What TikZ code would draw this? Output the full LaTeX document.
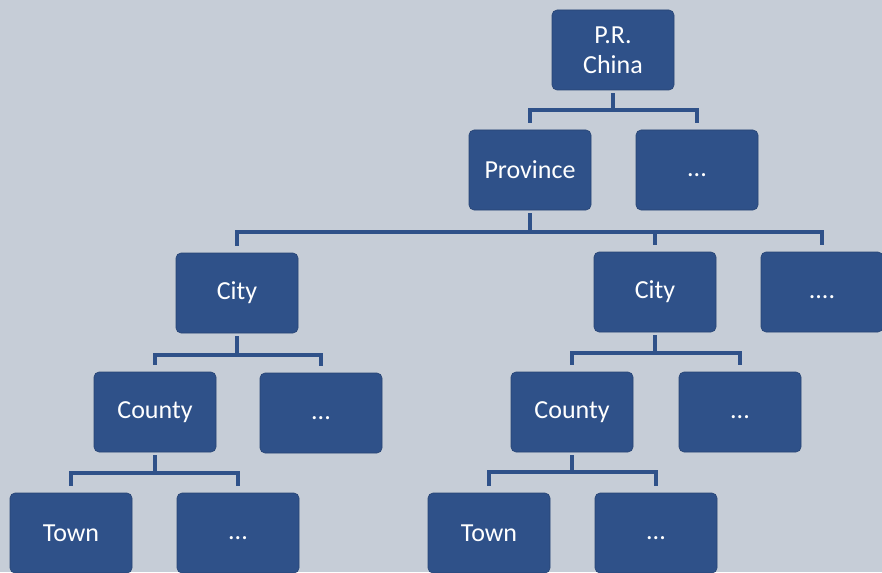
\documentclass[tikz,border=0pt]{standalone}
\usepackage{fontspec}
\setmainfont{Carlito}
\begin{document}
\begin{tikzpicture}[x=1pt,y=-1pt,
  box/.style={rectangle, rounded corners=5pt, fill=boxblue, draw=boxblue!85!black, line width=0.6pt,
    minimum width=122pt, minimum height=80pt, inner sep=0pt, text=white,
    font=\fontsize{26}{30}\selectfont, align=center},
  conn/.style={draw=boxblue, line width=4pt, line join=miter}]
\definecolor{boxblue}{HTML}{2F5189}
\definecolor{bg}{HTML}{C6CDD7}
\fill[bg] (0,0) rectangle (882,572);
\useasboundingbox (0,0) rectangle (882,572);
% nodes
\node[box] (china) at (613,50) {P.R.\\China};
\node[box] (prov) at (530,170) {Province};
\node[box] (provx) at (697,170) {\vphantom{Cy}...};
\node[box] (cityL) at (237,293) {City};
\node[box] (cityR) at (655,292) {City};
\node[box] (cityX) at (822,292) {\vphantom{Cy}....};
\node[box] (countyL) at (155,412) {County};
\node[box] (countyLx) at (321,413) {\vphantom{Cy}...};
\node[box] (countyR) at (572,412) {County};
\node[box] (countyRx) at (740,412) {\vphantom{Cy}...};
\node[box] (townL) at (71,533) {Town};
\node[box] (townLx) at (238,533) {\vphantom{Cy}...};
\node[box] (townR) at (489,533) {Town};
\node[box] (townRx) at (656,533) {\vphantom{Cy}...};
% connectors
\draw[conn] ([yshift=-3pt]china.south) -- ([yshift=-20pt]china.south);
\draw[conn] ([yshift=7pt]prov.north) |- ([yshift=-20pt]china.south) -| ([yshift=7pt]provx.north);
\draw[conn] ([yshift=-3pt]prov.south) -- ([yshift=-22pt]prov.south);
\draw[conn] ([yshift=7pt]cityL.north) |- ([yshift=-22pt]prov.south) -| ([yshift=7pt]cityX.north);
\draw[conn] ([yshift=-22pt]prov.south) -| ([yshift=7pt]cityR.north);
\draw[conn] ([yshift=-3pt]cityL.south) -- ([yshift=-22pt]cityL.south);
\draw[conn] ([yshift=7pt]countyL.north) |- ([yshift=-22pt]cityL.south) -| ([yshift=7pt]countyLx.north);
\draw[conn] ([yshift=-3pt]cityR.south) -- ([yshift=-21pt]cityR.south);
\draw[conn] ([yshift=7pt]countyR.north) |- ([yshift=-21pt]cityR.south) -| ([yshift=7pt]countyRx.north);
\draw[conn] ([yshift=-3pt]countyL.south) -- ([yshift=-21pt]countyL.south);
\draw[conn] ([yshift=7pt]townL.north) |- ([yshift=-21pt]countyL.south) -| ([yshift=7pt]townLx.north);
\draw[conn] ([yshift=-3pt]countyR.south) -- ([yshift=-20pt]countyR.south);
\draw[conn] ([yshift=7pt]townR.north) |- ([yshift=-20pt]countyR.south) -| ([yshift=7pt]townRx.north);
\end{tikzpicture}
\end{document}
